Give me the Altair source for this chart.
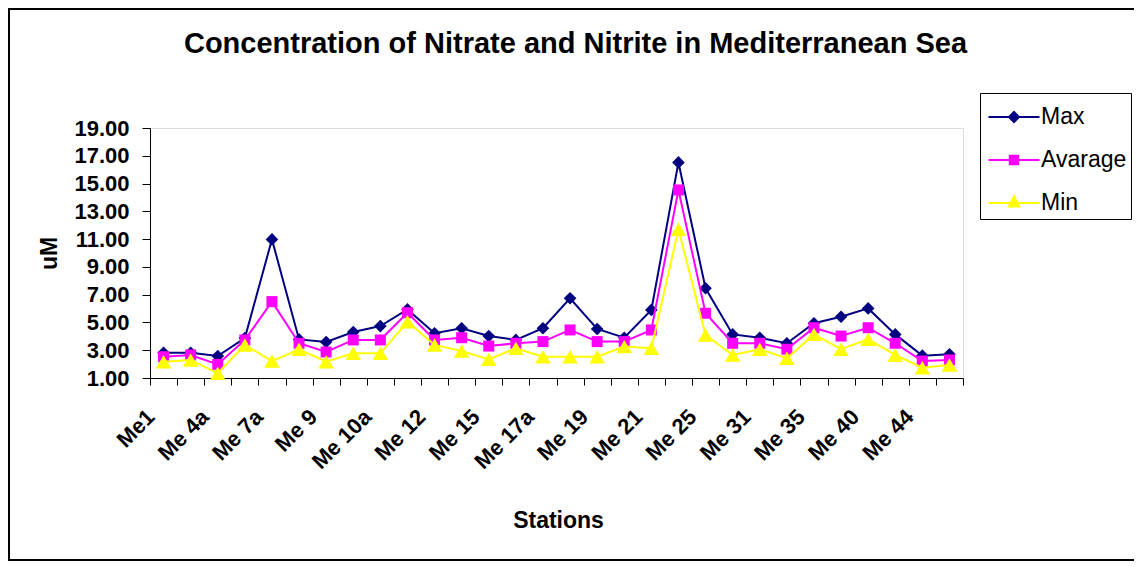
import json
import altair as alt
import pandas as pd

stations = ["Me1", "Me2", "Me 4a", "Me 5", "Me 7a", "Me 8", "Me 9", "Me 9a", "Me 10a", "Me 11",
            "Me 12", "Me 13", "Me 15", "Me 16", "Me 17a", "Me 18", "Me 19", "Me 20", "Me 21", "Me 23",
            "Me 25", "Me 27", "Me 31", "Me 33", "Me 35", "Me 38", "Me 40", "Me 42", "Me 44", "Me 46"]

max_vals = [2.82, 2.82, 2.58, 3.88, 10.98, 3.78, 3.59, 4.31, 4.74, 5.94,
            4.22, 4.58, 4.02, 3.74, 4.58, 6.74, 4.53, 3.90, 5.90, 16.52,
            7.46, 4.14, 3.90, 3.50, 4.94, 5.41, 6.01, 4.14, 2.61, 2.71]
avg_vals = [2.53, 2.66, 1.98, 3.74, 6.50, 3.50, 2.87, 3.74, 3.74, 5.70,
            3.74, 3.90, 3.30, 3.50, 3.62, 4.46, 3.62, 3.62, 4.46, 14.54,
            5.66, 3.50, 3.50, 3.07, 4.62, 4.02, 4.62, 3.50, 2.22, 2.30]
min_vals = [2.17, 2.30, 1.34, 3.38, 2.22, 3.07, 2.17, 2.78, 2.78, 5.05,
            3.38, 2.94, 2.34, 3.14, 2.53, 2.53, 2.53, 3.26, 3.14, 11.70,
            4.10, 2.66, 3.07, 2.42, 4.14, 3.07, 3.78, 2.66, 1.74, 1.94]

series_names = ["Max", "Avarage", "Min"]
series_colors = ["#000080", "#FF00FF", "#FFFF00"]
marker_shapes = ["diamond", "square", "triangle-up"]
marker_sizes = [160, 121, 240]
y_ticks = [1, 3, 5, 7, 9, 11, 13, 15, 17, 19]

FONT = "Liberation Sans"

# legend symbols: a line segment with the series marker on it
seg = "M-1.275,-0.05L1.275,-0.05L1.275,0.05L-1.275,0.05Z"
legend_paths = [
    seg + "M0,-0.32L0.32,0L0,0.32L-0.32,0Z",
    seg + "M-0.26,-0.26L0.26,-0.26L0.26,0.26L-0.26,0.26Z",
    seg + "M0,-0.44L0.34,0.22L-0.34,0.22Z",
]

rows = []
for name, vals in zip(series_names, [max_vals, avg_vals, min_vals]):
    for st, v in zip(stations, vals):
        rows.append({"station": st, "value": v, "series": name})
df = pd.DataFrame(rows)

label_expr = "indexof(" + json.dumps(stations) + ", datum.value) % 2 == 0 ? datum.value : ''"

x_enc = alt.X(
    "station:N",
    sort=stations,
    bandPosition=0.5,
    scale=alt.Scale(type="band", domain=stations, paddingInner=0, paddingOuter=0),
    axis=alt.Axis(
        title="Stations", labelExpr=label_expr, labelAngle=315, labelAlign="right",
        labelBaseline="middle", labelFontSize=22, labelFontWeight="bold", labelFont=FONT,
        labelColor="black", labelPadding=28, labelOffset=-13, labelOverlap=False,
        tickBand="extent", tickSize=7, tickColor="black", domainColor="black",
        grid=False, titleFontSize=23, titleFontWeight="bold", titleFont=FONT,
        titleColor="black", titleX=408, titleY=142, titleBaseline="middle",
        titleAlign="center",
    ),
)

y_enc = alt.Y(
    "value:Q",
    scale=alt.Scale(domain=[1, 19], nice=False, zero=False),
    axis=alt.Axis(
        title="uM", values=y_ticks, format=".2f", labelFontSize=22, labelFontWeight="bold",
        labelFont=FONT, labelColor="black", labelPadding=13, tickSize=8,
        tickColor="black", domainColor="black", grid=False, titleFontSize=23,
        titleFontWeight="bold", titleFont=FONT, titleColor="black", titleX=-101,
        titleY=125, titleAngle=270, titleBaseline="middle", titleAlign="center",
    ),
)

layers = []
frame = alt.Chart(pd.DataFrame({"f": [0]})).mark_rect(
    fillOpacity=0, stroke="black", strokeWidth=2
).encode(x=alt.value(-141), x2=alt.value(985), y=alt.value(-119), y2=alt.value(432))
layers.append(frame)

for name, color, shape, size in zip(series_names, series_colors, marker_shapes, marker_sizes):
    base = alt.Chart(df).transform_filter(alt.datum.series == name)
    layers.append(base.mark_line(color=color, strokeWidth=2).encode(x=x_enc, y=y_enc))
    layers.append(
        base.mark_point(shape=shape, filled=True, color=color, size=size, opacity=1)
        .encode(x=x_enc, y=y_enc)
    )

leg = alt.Legend(
    title=None, orient="none", legendX=830, legendY=-35, strokeColor="black",
    padding=4, labelFontSize=23, labelFont=FONT, labelColor="black",
    symbolSize=1600, symbolStrokeWidth=0, symbolOpacity=1, rowPadding=11,
    labelOffset=7, symbolOffset=10,
)
legend_layer = alt.Chart(df).transform_filter("datum.value < 0").mark_point(
    filled=True, opacity=1, strokeWidth=0
).encode(
    x=x_enc, y=y_enc,
    color=alt.Color("series:N", scale=alt.Scale(domain=series_names, range=series_colors), legend=leg),
    shape=alt.Shape("series:N", scale=alt.Scale(domain=series_names, range=legend_paths), legend=leg),
)
layers.append(legend_layer)

chart = alt.layer(*layers).properties(
    width=813, height=250,
    padding={"left": 142, "top": 120, "right": 171, "bottom": 183},
    autosize=alt.AutoSizeParams(type="none"),
    title=alt.TitleParams(
        "Concentration of Nitrate and Nitrite in Mediterranean Sea", fontSize=29,
        fontWeight="bold", font=FONT, color="black", anchor="middle", frame="group",
        dx=19, dy=55,
    ),
).configure_view(strokeWidth=0).configure(font=FONT)

chart.save("out.html", embed_options={"renderer": "svg", "actions": False})
